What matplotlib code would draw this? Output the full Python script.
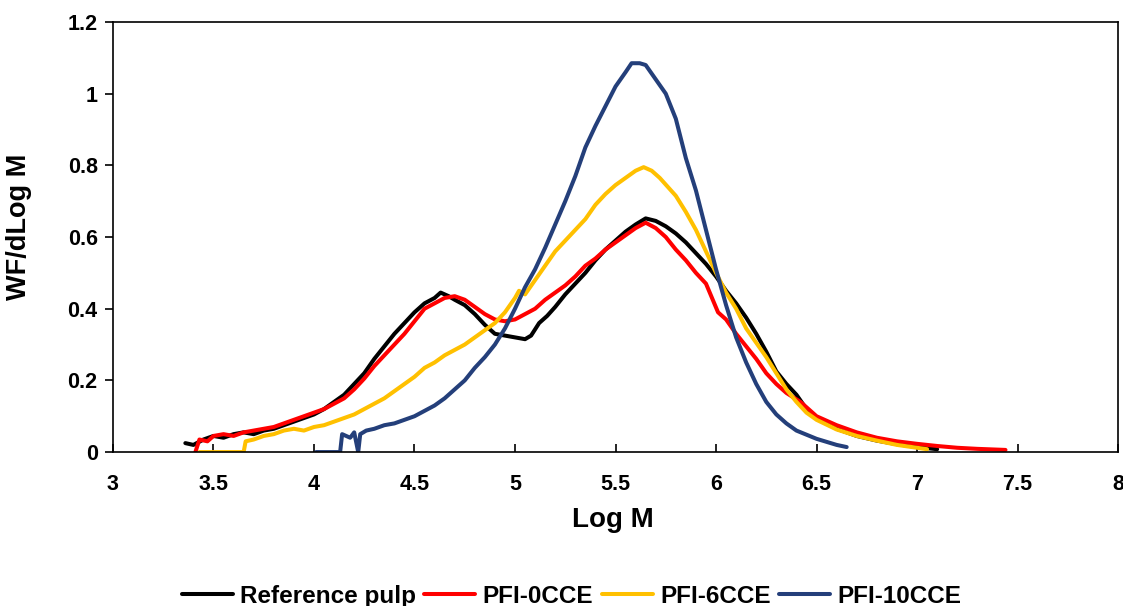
import matplotlib.pyplot as plt

plt.rcParams["font.family"] = ["Liberation Sans", "DejaVu Sans"]
plt.rcParams["font.weight"] = "bold"

# Reference pulp
REF_X = [3.36, 3.40, 3.45, 3.50, 3.55, 3.60, 3.65, 3.70, 3.75, 3.80, 3.85, 3.90, 3.95,
         4.00, 4.05, 4.10, 4.15, 4.20, 4.25, 4.30, 4.35, 4.40, 4.45, 4.50, 4.55, 4.60,
         4.63, 4.67, 4.70, 4.75, 4.80, 4.85, 4.90, 4.95, 5.00, 5.05, 5.08, 5.12, 5.16,
         5.20, 5.25, 5.30, 5.35, 5.40, 5.45, 5.50, 5.55, 5.60, 5.65, 5.70, 5.75, 5.80,
         5.85, 5.90, 5.95, 6.00, 6.05, 6.10, 6.15, 6.20, 6.25, 6.30, 6.35, 6.40, 6.45,
         6.50, 6.60, 6.70, 6.80, 6.90, 7.00, 7.10]
REF_Y = [0.025, 0.020, 0.035, 0.045, 0.040, 0.050, 0.055, 0.050, 0.060, 0.065, 0.075, 0.085, 0.095,
         0.105, 0.120, 0.140, 0.160, 0.190, 0.220, 0.260, 0.295, 0.330, 0.360, 0.390, 0.415, 0.430,
         0.445, 0.435, 0.425, 0.410, 0.385, 0.355, 0.330, 0.325, 0.320, 0.315, 0.325, 0.360, 0.380,
         0.405, 0.440, 0.470, 0.500, 0.535, 0.565, 0.590, 0.615, 0.635, 0.652, 0.645, 0.630, 0.610,
         0.585, 0.555, 0.525, 0.490, 0.450, 0.415, 0.375, 0.330, 0.280, 0.225, 0.190, 0.160, 0.120,
         0.095, 0.065, 0.045, 0.032, 0.022, 0.014, 0.008]

# PFI-0CCE
P0_X = [3.41, 3.43, 3.47, 3.50, 3.55, 3.60, 3.65, 3.70, 3.75, 3.80, 3.85, 3.90, 3.95,
        4.00, 4.05, 4.10, 4.15, 4.20, 4.25, 4.30, 4.35, 4.40, 4.45, 4.50, 4.55, 4.60,
        4.65, 4.70, 4.75, 4.80, 4.85, 4.90, 4.95, 5.00, 5.05, 5.10, 5.15, 5.20, 5.25,
        5.30, 5.35, 5.40, 5.45, 5.50, 5.55, 5.60, 5.65, 5.70, 5.75, 5.80, 5.85, 5.90,
        5.95, 5.98, 6.01, 6.05, 6.10, 6.15, 6.20, 6.25, 6.30, 6.35, 6.42, 6.50, 6.60,
        6.70, 6.80, 6.90, 7.00, 7.10, 7.20, 7.30, 7.44]
P0_Y = [0.000, 0.035, 0.030, 0.045, 0.050, 0.045, 0.055, 0.060, 0.065, 0.070, 0.080, 0.090, 0.100,
        0.110, 0.120, 0.135, 0.150, 0.175, 0.205, 0.240, 0.270, 0.300, 0.330, 0.365, 0.400, 0.415,
        0.430, 0.435, 0.425, 0.405, 0.385, 0.370, 0.365, 0.370, 0.385, 0.400, 0.425, 0.445, 0.465,
        0.490, 0.520, 0.540, 0.565, 0.585, 0.605, 0.625, 0.640, 0.625, 0.600, 0.565, 0.535, 0.500,
        0.470, 0.430, 0.390, 0.370, 0.330, 0.295, 0.260, 0.220, 0.190, 0.165, 0.140, 0.100, 0.075,
        0.055, 0.040, 0.030, 0.023, 0.017, 0.012, 0.009, 0.006]

# PFI-6CCE
P6_X = [3.43, 3.65, 3.66, 3.70, 3.75, 3.80, 3.85, 3.90, 3.95, 4.00, 4.05, 4.10, 4.15,
        4.20, 4.25, 4.30, 4.35, 4.40, 4.45, 4.50, 4.55, 4.60, 4.65, 4.70, 4.75, 4.80,
        4.85, 4.90, 4.95, 5.00, 5.02, 5.05, 5.10, 5.15, 5.20, 5.25, 5.30, 5.35, 5.40,
        5.45, 5.50, 5.55, 5.60, 5.64, 5.68, 5.72, 5.76, 5.80, 5.85, 5.90, 5.95, 6.00,
        6.05, 6.10, 6.15, 6.20, 6.25, 6.30, 6.35, 6.40, 6.45, 6.50, 6.60, 6.70, 6.80,
        6.90, 7.00, 7.05]
P6_Y = [0.000, 0.000, 0.030, 0.035, 0.045, 0.050, 0.060, 0.065, 0.060, 0.070, 0.075, 0.085, 0.095,
        0.105, 0.120, 0.135, 0.150, 0.170, 0.190, 0.210, 0.235, 0.250, 0.270, 0.285, 0.300, 0.320,
        0.340, 0.360, 0.390, 0.430, 0.450, 0.440, 0.480, 0.520, 0.560, 0.590, 0.620, 0.650, 0.690,
        0.720, 0.745, 0.765, 0.785, 0.795, 0.785, 0.765, 0.740, 0.715, 0.670, 0.620, 0.560, 0.500,
        0.445, 0.400, 0.345, 0.305, 0.265, 0.220, 0.175, 0.140, 0.110, 0.090, 0.063, 0.045, 0.032,
        0.020, 0.012, 0.008]

# PFI-10CCE
P10_X = [4.01, 4.13, 4.14, 4.18, 4.20, 4.22, 4.23, 4.26, 4.30, 4.35, 4.40, 4.45, 4.50,
         4.55, 4.60, 4.65, 4.70, 4.75, 4.80, 4.85, 4.90, 4.95, 5.00, 5.05, 5.10, 5.15,
         5.20, 5.25, 5.30, 5.35, 5.40, 5.45, 5.50, 5.55, 5.58, 5.62, 5.65, 5.70, 5.75,
         5.80, 5.85, 5.90, 5.95, 6.00, 6.05, 6.10, 6.15, 6.20, 6.25, 6.30, 6.35, 6.40,
         6.50, 6.60, 6.65]
P10_Y = [0.000, 0.000, 0.050, 0.040, 0.055, 0.000, 0.050, 0.060, 0.065, 0.075, 0.080, 0.090, 0.100,
         0.115, 0.130, 0.150, 0.175, 0.200, 0.235, 0.265, 0.300, 0.345, 0.400, 0.460, 0.510, 0.570,
         0.635, 0.700, 0.770, 0.850, 0.910, 0.965, 1.020, 1.060, 1.085, 1.085, 1.080, 1.040, 1.000,
         0.930, 0.820, 0.730, 0.620, 0.510, 0.410, 0.320, 0.250, 0.190, 0.140, 0.105, 0.080, 0.060,
         0.037, 0.020, 0.014]

SERIES = [
    ("Reference pulp", REF_X, REF_Y, "#000000"),
    ("PFI-0CCE", P0_X, P0_Y, "#ff0000"),
    ("PFI-6CCE", P6_X, P6_Y, "#ffc000"),
    ("PFI-10CCE", P10_X, P10_Y, "#243f7a"),
]


def main():
    fig = plt.figure(figsize=(11.23, 6.06), dpi=100)
    ax = fig.add_axes([0.1006, 0.254, 0.895, 0.7097])

    for label, xs, ys, color in SERIES:
        ax.plot(xs, ys, color=color, linewidth=2.9, label=label,
                solid_joinstyle="round", solid_capstyle="round")

    ax.set_xlim(3, 8)
    ax.set_ylim(0, 1.2)
    ax.set_xticks([3, 3.5, 4, 4.5, 5, 5.5, 6, 6.5, 7, 7.5, 8])
    ax.set_xticklabels(["3", "3.5", "4", "4.5", "5", "5.5", "6", "6.5", "7", "7.5", "8"])
    ax.set_yticks([0, 0.2, 0.4, 0.6, 0.8, 1.0, 1.2])
    ax.set_yticklabels(["0", "0.2", "0.4", "0.6", "0.8", "1", "1.2"])

    ax.tick_params(axis="x", direction="in", length=6, width=1.2, pad=16, labelsize=15.5)
    ax.tick_params(axis="y", direction="out", length=6, width=1.2, pad=5, labelsize=15.5)
    for spine in ax.spines.values():
        spine.set_linewidth(1.2)

    ax.set_xlabel("Log M", fontsize=20, fontweight="bold")
    ax.xaxis.set_label_coords(0.4975, -0.128)
    ax.set_ylabel("WF/dLog M", fontsize=19.5, fontweight="bold")
    ax.yaxis.set_label_coords(-0.081, 0.523)

    fig.legend(loc="center", bbox_to_anchor=(0.509, 0.016), ncol=4, frameon=False,
               handlelength=2.1, handletextpad=0.3, columnspacing=0.35,
               borderpad=0.0, prop={"weight": "bold", "size": 17.5})

    fig.savefig("out.png", dpi=100)


if __name__ == "__main__":
    main()
